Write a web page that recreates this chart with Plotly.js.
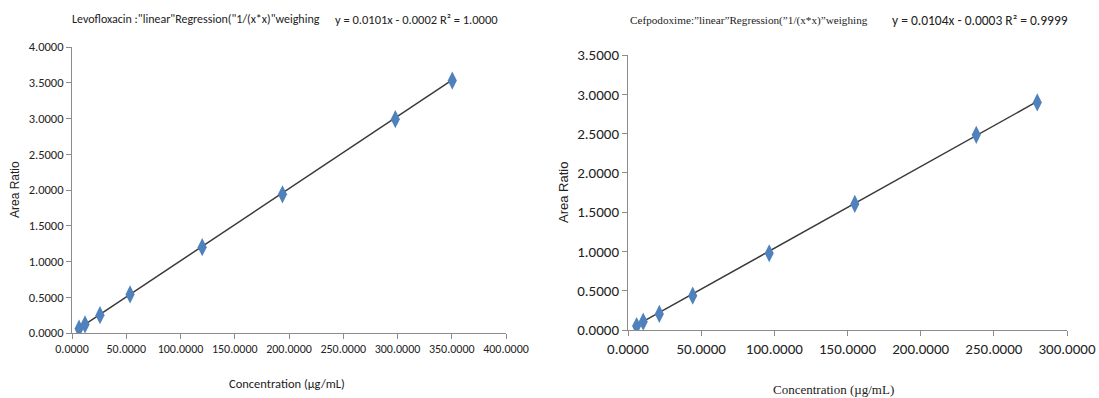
<!DOCTYPE html>
<html>
<head>
<meta charset="utf-8">
<script src="https://cdn.plot.ly/plotly-3.0.1.min.js"></script>
<style>html,body{margin:0;padding:0;background:#fff;}#chart{width:1099px;height:398px;}</style>
</head>
<body>
<div id="chart"></div>
<script>
// Levofloxacin calibration (left)
const levoConc = [6.5, 12, 25.8, 53.5, 120, 194, 298, 350.5];
const levoRatio = [0.06, 0.12, 0.25, 0.54, 1.20, 1.94, 2.99, 3.53];
const levoSlope = 0.0101, levoIntercept = -0.0002;
// Cefpodoxime calibration (right)
const cefConc = [5.9, 10.4, 21.4, 44.2, 96.5, 155, 238, 279.7];
const cefRatio = [0.05, 0.106, 0.204, 0.437, 0.977, 1.605, 2.484, 2.896];
const cefSlope = 0.0104, cefIntercept = -0.0003;

const levoTitle = 'Levofloxacin :"linear"Regression("1/(x*x)"weighing';
const levoEq = 'y = 0.0101x - 0.0002 R² = 1.0000';
const cefTitle = 'Cefpodoxime:”linear”Regression(”1/(x*x)”weighing';
const cefEq = 'y = 0.0104x - 0.0003 R² = 0.9999';
const xTitle = 'Concentration (µg/mL)';
const yTitle = 'Area Ratio';

const W = 1099, H = 398;
const narrow = 'Carlito, "Liberation Sans Narrow", "DejaVu Sans Condensed", sans-serif';
const serif = '"Liberation Serif", "DejaVu Serif", serif';
const blue = '#4F81BD';

function trend(xs, m, b) {
  const x0 = Math.min(...xs), x1 = Math.max(...xs);
  return {x: [x0, x1], y: [m * x0 + b, m * x1 + b]};
}
const t1 = trend(levoConc, levoSlope, levoIntercept);
const t2 = trend(cefConc, cefSlope, cefIntercept);

const traces = [
  {x: t1.x, y: t1.y, mode: 'lines', line: {color: '#3a3a3a', width: 1.5}, xaxis: 'x', yaxis: 'y', hoverinfo: 'skip'},
  {x: levoConc, y: levoRatio, mode: 'markers', marker: {symbol: 'diamond-tall', size: 13, color: blue}, xaxis: 'x', yaxis: 'y'},
  {x: t2.x, y: t2.y, mode: 'lines', line: {color: '#3a3a3a', width: 1.5}, xaxis: 'x2', yaxis: 'y2', hoverinfo: 'skip'},
  {x: cefConc, y: cefRatio, mode: 'markers', marker: {symbol: 'diamond-tall', size: 13, color: blue}, xaxis: 'x2', yaxis: 'y2'}
];

function ax(domain, range, dtick, font, anchor) {
  return {
    domain: domain, range: range, dtick: dtick, tick0: 0, tickformat: '.4f',
    showgrid: false, zeroline: false, showline: true, linecolor: '#8c8c8c', linewidth: 1,
    ticks: 'outside', ticklen: 5, tickcolor: '#8c8c8c', tickfont: font, anchor: anchor,
    fixedrange: true
  };
}

const layout = {
  width: W, height: H, margin: {l: 0, r: 0, t: 0, b: 0},
  paper_bgcolor: '#fff', plot_bgcolor: '#fff', showlegend: false,
  xaxis: ax([72 / W, 506 / W], [0, 400], 50, {family: narrow, size: 12, color: '#222'}, 'y'),
  yaxis: ax([(H - 333) / H, (H - 47) / H], [0, 4], 0.5, {family: narrow, size: 12.5, color: '#222'}, 'x'),
  xaxis2: ax([628 / W, 1067 / W], [0, 300], 50, {family: narrow, size: 15, color: '#222'}, 'y2'),
  yaxis2: ax([(H - 330) / H, (H - 55) / H], [0, 3.5], 0.5, {family: narrow, size: 15, color: '#222'}, 'x2'),
  annotations: [
    {text: levoTitle, x: 70 / W, y: 1 - 19 / H, xref: 'paper', yref: 'paper', xanchor: 'left', yanchor: 'middle', showarrow: false, font: {family: narrow, size: 12, color: '#222'}},
    {text: levoEq, x: 333 / W, y: 1 - 19 / H, xref: 'paper', yref: 'paper', xanchor: 'left', yanchor: 'middle', showarrow: false, font: {family: narrow, size: 12.5, color: '#222'}},
    {text: cefTitle, x: 628 / W, y: 1 - 21 / H, xref: 'paper', yref: 'paper', xanchor: 'left', yanchor: 'middle', showarrow: false, font: {family: serif, size: 11.2, color: '#222'}},
    {text: cefEq, x: 890 / W, y: 1 - 21 / H, xref: 'paper', yref: 'paper', xanchor: 'left', yanchor: 'middle', showarrow: false, font: {family: narrow, size: 13.5, color: '#222'}},
    {text: xTitle, x: 287 / W, y: 1 - 383 / H, xref: 'paper', yref: 'paper', xanchor: 'center', yanchor: 'middle', showarrow: false, font: {family: narrow, size: 12.5, color: '#222'}},
    {text: xTitle, x: 833 / W, y: 1 - 389 / H, xref: 'paper', yref: 'paper', xanchor: 'center', yanchor: 'middle', showarrow: false, font: {family: serif, size: 13, color: '#222'}},
    {text: yTitle, x: 15 / W, y: 1 - 190 / H, xref: 'paper', yref: 'paper', xanchor: 'center', yanchor: 'middle', textangle: -90, showarrow: false, font: {family: '"Liberation Sans", Arial, sans-serif', size: 12, color: '#222'}},
    {text: yTitle, x: 563 / W, y: 1 - 193 / H, xref: 'paper', yref: 'paper', xanchor: 'center', yanchor: 'middle', textangle: -90, showarrow: false, font: {family: '"Liberation Sans", Arial, sans-serif', size: 13, color: '#222'}}
  ]
};

Plotly.newPlot('chart', traces, layout, {displayModeBar: false, staticPlot: true});
</script>
</body>
</html>
